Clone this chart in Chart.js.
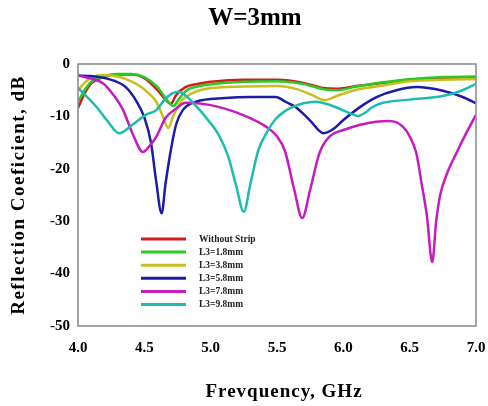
<!DOCTYPE html>
<html><head><meta charset="utf-8">
<script src="https://cdn.jsdelivr.net/npm/chart.js@4/dist/chart.umd.min.js"></script>
<style>html,body{margin:0;padding:0;background:#fff;}#wrap{width:488px;height:406px;}</style>
</head><body><div id="wrap"><canvas id="c" width="488" height="406"></canvas></div>
<script>
const chartTitle = 'W=3mm';
const xAxisTitle = 'Frevquency, GHz';
const yAxisTitle = 'Reflection Coeficient, dB';
const seriesNames = ['Without Strip','L3=1.8mm','L3=3.8mm','L3=5.8mm','L3=7.8mm','L3=9.8mm'];
const seriesColors = ['#d41a1a','#24cc24','#c8be1c','#1c1ca6','#c41cc0','#1cbcb0'];
const xTicks = [4.0,4.5,5.0,5.5,6.0,6.5,7.0];
const yTicks = [0,-10,-20,-30,-40,-50];

const freqWithout = [4.00,4.05,4.10,4.20,4.30,4.40,4.50,4.60,4.66,4.70,4.74,4.81,4.90,5.00,5.25,5.50,5.70,5.85,5.95,6.10,6.30,6.50,6.75,7.00];
const s11Without  = [-8.4,-5.6,-3.7,-2.4,-2.0,-2.0,-2.7,-5.0,-6.8,-7.6,-5.9,-4.4,-3.8,-3.4,-3.0,-3.0,-3.6,-4.6,-4.7,-4.2,-3.6,-3.0,-2.7,-2.6];

const freqL18 = [4.00,4.05,4.10,4.20,4.30,4.40,4.50,4.60,4.67,4.72,4.76,4.82,4.90,5.00,5.25,5.50,5.70,5.85,5.95,6.10,6.30,6.50,6.75,7.00];
const s11L18  = [-7.2,-5.0,-3.4,-2.3,-1.9,-1.9,-2.5,-4.4,-6.9,-8.0,-6.7,-5.0,-4.3,-3.9,-3.4,-3.3,-3.8,-4.8,-5.0,-4.3,-3.5,-2.9,-2.5,-2.4];

const freqL38 = [4.00,4.05,4.10,4.19,4.30,4.41,4.47,4.52,4.59,4.64,4.68,4.72,4.78,4.86,5.00,5.25,5.50,5.65,5.77,5.86,5.96,6.10,6.25,6.50,6.75,7.00];
const s11L38  = [-5.0,-3.6,-2.6,-2.1,-2.4,-3.4,-4.3,-5.3,-7.2,-10.0,-12.2,-9.8,-7.0,-5.6,-4.6,-4.3,-4.2,-4.8,-6.0,-6.9,-6.0,-4.9,-4.3,-3.3,-3.0,-2.9];

const freqL58 = [4.00,4.10,4.22,4.36,4.45,4.50,4.55,4.59,4.63,4.66,4.70,4.74,4.79,4.89,5.11,5.30,5.49,5.57,5.64,5.75,5.85,5.93,6.00,6.15,6.25,6.40,6.55,6.75,6.90,7.00];
const s11L58  = [-2.2,-2.3,-2.8,-4.4,-7.5,-10.2,-15.0,-22.5,-28.5,-22.8,-16.4,-11.5,-8.8,-7.2,-6.5,-6.3,-6.3,-7.3,-8.2,-10.8,-13.2,-12.3,-10.7,-7.8,-6.3,-5.0,-4.4,-5.1,-6.3,-7.5];

const freqL78 = [4.00,4.10,4.19,4.27,4.34,4.41,4.49,4.54,4.59,4.66,4.74,4.81,4.99,5.24,5.42,5.50,5.56,5.63,5.69,5.75,5.82,5.89,6.00,6.25,6.35,6.45,6.50,6.55,6.59,6.63,6.67,6.70,6.73,6.78,6.86,6.93,7.00];
const s11L78  = [-2.2,-2.8,-3.7,-6.0,-8.8,-13.2,-16.8,-15.6,-13.9,-10.3,-8.5,-7.4,-7.8,-9.7,-12.0,-13.8,-16.6,-24.0,-29.4,-24.0,-17.0,-14.0,-12.6,-11.0,-10.9,-12.0,-13.8,-17.0,-22.8,-29.0,-37.8,-30.0,-25.0,-21.0,-16.6,-13.0,-9.7];

const freqL98 = [4.00,4.07,4.14,4.22,4.31,4.41,4.51,4.59,4.65,4.71,4.76,4.81,4.89,4.99,5.06,5.13,5.19,5.25,5.30,5.36,5.42,5.49,5.56,5.62,5.70,5.79,5.94,6.04,6.11,6.17,6.22,6.30,6.50,6.75,6.87,7.00];
const s11L98  = [-4.6,-6.3,-8.2,-10.8,-13.2,-11.6,-9.7,-8.8,-6.9,-5.6,-5.3,-6.0,-8.0,-11.0,-13.5,-17.5,-23.0,-28.2,-22.8,-16.4,-13.2,-10.5,-9.0,-8.2,-7.5,-7.2,-8.2,-9.3,-9.9,-9.2,-8.2,-7.4,-6.8,-6.1,-5.3,-3.8];

const seriesFreqs = [freqWithout,freqL18,freqL38,freqL58,freqL78,freqL98];
const seriesVals  = [s11Without,s11L18,s11L38,s11L58,s11L78,s11L98];

const serif = '"Liberation Serif", "Times New Roman", serif';

const datasets = seriesNames.map((name,i)=>({
  label: name,
  data: seriesFreqs[i].map((f,j)=>({x:f,y:seriesVals[i][j]})),
  borderColor: seriesColors[i],
  backgroundColor: seriesColors[i],
  borderWidth: 2.5,
  pointRadius: 0,
  fill: false,
  cubicInterpolationMode: 'monotone',
  order: 6 - i
}));

const decorPlugin = {
  id: 'decor',
  afterDraw(chart){
    const ctx = chart.ctx, a = chart.chartArea;
    ctx.save();
    ctx.strokeStyle = '#8f8f8f';
    ctx.lineWidth = 1.6;
    ctx.strokeRect(a.left, a.top, a.right - a.left, a.bottom - a.top);
    ctx.fillStyle = '#000';
    ctx.font = 'bold 25px ' + serif;
    ctx.textAlign = 'center';
    ctx.textBaseline = 'middle';
    ctx.fillText(chartTitle, 255, 19);
    ctx.font = 'bold 19px ' + serif;
    ctx.letterSpacing = '1px';
    ctx.fillText(xAxisTitle, 284, 392);
    ctx.save();
    ctx.translate(19, 195);
    ctx.rotate(-Math.PI/2);
    ctx.letterSpacing = '1.5px';
    ctx.fillText(yAxisTitle, 0, 0);
    ctx.restore();
    ctx.letterSpacing = '0px';
    const lx = a.left + 63, ly = a.top + 175, step = 13.1;
    ctx.font = 'bold 9.5px ' + serif;
    ctx.textAlign = 'left';
    chart.data.datasets.forEach((ds,i)=>{
      const y = ly + i*step;
      ctx.strokeStyle = ds.borderColor;
      ctx.lineWidth = 3;
      ctx.beginPath(); ctx.moveTo(lx, y); ctx.lineTo(lx + 45, y); ctx.stroke();
      ctx.fillStyle = '#222';
      ctx.fillText(ds.label, lx + 58, y + 0.5);
    });
    ctx.restore();
  }
};

new Chart(document.getElementById('c'), {
  type: 'line',
  data: { datasets },
  options: {
    responsive: false,
    animation: false,
    devicePixelRatio: 1,
    layout: { padding: { top: 64, right: 0, left: 0, bottom: 0 } },
    plugins: { legend: { display: false }, title: { display: false }, tooltip: { enabled: false } },
    scales: {
      x: {
        type: 'linear', min: 4, max: 7,
        afterBuildTicks: s => { s.ticks = xTicks.map(v=>({value:v})); },
        afterFit: s => { s.height = 80; s.paddingLeft = 0; s.paddingRight = 12; },
        grid: { display: false, drawTicks: false },
        border: { display: false },
        ticks: { color: '#000', padding: 13, font: { family: serif, size: 15, weight: 'bold' }, callback: v => Number(v).toFixed(1), maxRotation: 0 },
        title: { display: false }
      },
      y: {
        type: 'linear', min: -50, max: 0,
        afterBuildTicks: s => { s.ticks = yTicks.map(v=>({value:v})); },
        afterFit: s => { s.width = 78; s.paddingTop = 0; s.paddingBottom = 0; },
        grid: { display: false, drawTicks: false },
        border: { display: false },
        ticks: { color: '#000', padding: 8, font: { family: serif, size: 15, weight: 'bold' } },
        title: { display: false }
      }
    }
  },
  plugins: [decorPlugin]
});
</script></body></html>
